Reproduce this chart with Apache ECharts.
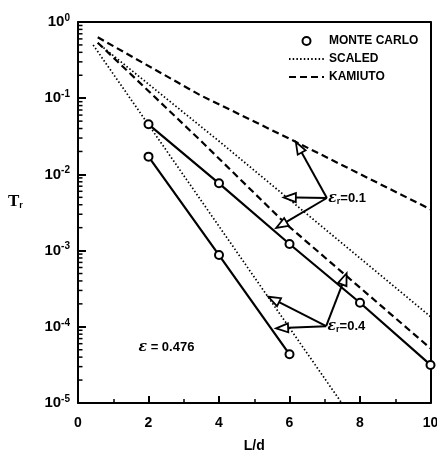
<!DOCTYPE html>
<html><head><meta charset="utf-8">
<script src="https://cdn.jsdelivr.net/npm/echarts@6/dist/echarts.min.js"></script>
<style>html,body{margin:0;padding:0;background:#fff}#c{width:437px;height:453px}</style>
</head><body><div id="c"></div>
<script>
// ---- data ----
const xTickLabels = ['0','2','4','6','8','10'];
const yTickExps = [0, -1, -2, -3, -4, -5];
const minorMultipliers = [2,3,4,5,6,7,8,9];

const mcX_01 = [2, 4, 6, 8, 10];
const mcY_01 = [0.0454, 7.64e-3, 1.22e-3, 2.07e-4, 3.16e-5];
const mcX_04 = [2, 4, 6];
const mcY_04 = [0.0171, 8.75e-4, 4.36e-5];

const scaledX_01 = [0.56, 4.03, 10];
const scaledY_01 = [0.53, 0.0266, 1.36e-4];
const scaledX_04 = [0.43, 7.48];
const scaledY_04 = [0.499, 1e-5];

const kamX_01 = [0.56, 3.46, 6.01, 10];
const kamY_01 = [0.63, 0.110, 0.0292, 3.48e-3];
const kamX_04 = [0.56, 3.46, 5.87, 10];
const kamY_04 = [0.535, 0.0283, 2.30e-3, 5.22e-5];

// annotation arrows: [fromX, fromY, toX, toY]
const arrowsEr01 = [[7.06, 4.9e-3, 6.18, 0.0266], [7.06, 4.9e-3, 5.84, 4.98e-3], [7.06, 4.9e-3, 5.62, 1.98e-3]];
const arrowsEr04 = [[7.04, 1.02e-4, 5.40, 2.48e-4], [7.04, 1.02e-4, 5.62, 9.55e-5], [7.04, 1.02e-4, 7.62, 5.04e-4]];

// annotation texts
const noteX = [7.10, 7.08, 2.51];
const noteY = [4.9e-3, 1.02e-4, 5.3e-5];
const noteText = ['{e|ε}{s|r}{n|=0.1}', '{e|ε}{s|r}{n|=0.4}', '{e|ε}{n| = 0.476}'];
const noteAlign = ['left', 'left', 'center'];

// ---- build ----
const FONT = 'Liberation Sans';
const zip = (xs, ys) => xs.map((x, i) => [x, ys[i]]);
const minorVals = [];
yTickExps.forEach(e => { if (e < 0) minorMultipliers.forEach(m => minorVals.push([0, m * Math.pow(10, e)])); });

function renderArrow(params, api) {
  const p0 = api.coord([api.value(0), api.value(1)]);
  const p1 = api.coord([api.value(2), api.value(3)]);
  const dx = p1[0] - p0[0], dy = p1[1] - p0[1];
  const L = Math.hypot(dx, dy);
  const ux = dx / L, uy = dy / L;
  const hl = 12, hw = 4.5;
  const bx = p1[0] - ux * hl, by = p1[1] - uy * hl;
  return { type: 'group', children: [
    { type: 'line', shape: { x1: p0[0], y1: p0[1], x2: bx, y2: by }, style: { stroke: '#000', lineWidth: 2 } },
    { type: 'polygon', shape: { points: [[p1[0], p1[1]], [bx - uy * hw, by + ux * hw], [bx + uy * hw, by - ux * hw]] },
      style: { fill: '#fff', stroke: '#000', lineWidth: 1.8 } }
  ]};
}
function renderMinor(params, api) {
  const p = api.coord([api.value(0), api.value(1)]);
  return { type: 'line', shape: { x1: p[0], y1: p[1], x2: p[0] + 4.5, y2: p[1] }, style: { stroke: '#000', lineWidth: 1.5 } };
}
const noteRich = {
  e: { fontFamily: 'DejaVu Serif', fontStyle: 'italic', fontWeight: 'bold', fontSize: 14, color: '#000', lineHeight: 16 },
  s: { fontFamily: FONT, fontWeight: 'bold', fontSize: 9, color: '#000', lineHeight: 8, verticalAlign: 'bottom' },
  n: { fontFamily: FONT, fontWeight: 'bold', fontSize: 13, color: '#000', lineHeight: 16 }
};
function renderNote(params, api) {
  const i = params.dataIndex;
  const p = api.coord([api.value(0), api.value(1)]);
  return { type: 'text', x: p[0], y: p[1], style: { text: noteText[i], rich: noteRich, align: noteAlign[i], verticalAlign: 'middle' } };
}

const solid = { color: '#000', width: 2.2, type: 'solid' };
const dotted = { color: '#000', width: 1.7, type: [1.5, 2.2] };
const dashed = { color: '#000', width: 2.2, type: [7, 4] };

const chart = echarts.init(document.getElementById('c'), null, { renderer: 'canvas' });
chart.setOption({
  animation: false,
  backgroundColor: '#fff',
  grid: { left: 78, right: 6.5, top: 22, bottom: 50, containLabel: false, outerBoundsMode: 'none' },
  legend: {
    orient: 'vertical', left: 283, top: 30, itemWidth: 35, itemHeight: 8, itemGap: 6, selectedMode: false,
    textStyle: { fontFamily: FONT, fontWeight: 'bold', fontSize: 12, color: '#000' },
    data: [{ name: 'MONTE CARLO', icon: 'emptyCircle' },
           { name: 'SCALED', itemStyle: { opacity: 0 } },
           { name: 'KAMIUTO', itemStyle: { opacity: 0 } }]
  },
  xAxis: [{
    type: 'value', min: 0, max: 10, interval: 2,
    axisLine: { show: true, onZero: false, lineStyle: { color: '#000', width: 2 } },
    axisTick: { show: true, inside: true, length: 7, lineStyle: { color: '#000', width: 2 } },
    minorTick: { show: true, splitNumber: 2, length: 4, lineStyle: { color: '#000', width: 1.5 } },
    splitLine: { show: false }, minorSplitLine: { show: false },
    axisLabel: { margin: 13, fontFamily: FONT, fontWeight: 'bold', fontSize: 14, color: '#000',
      formatter: v => xTickLabels[Math.round(v / 2)] },
    name: 'L/d', nameLocation: 'middle', nameGap: 36,
    nameTextStyle: { fontFamily: FONT, fontWeight: 'bold', fontSize: 14, color: '#000' }
  }, {
    type: 'value', position: 'top', min: 0, max: 10,
    axisLine: { show: true, onZero: false, lineStyle: { color: '#000', width: 2 } },
    axisTick: { show: false }, axisLabel: { show: false }, splitLine: { show: false }
  }],
  yAxis: [{
    type: 'log', logBase: 10, min: 1e-5, max: 1,
    axisLine: { show: true, onZero: false, lineStyle: { color: '#000', width: 2 } },
    axisTick: { show: true, inside: true, length: 8, lineStyle: { color: '#000', width: 2 } },
    splitLine: { show: false },
    axisLabel: {
      margin: 8,
      formatter: v => {
        const e = Math.round(Math.log10(v));
        if (yTickExps.indexOf(e) < 0) return '';
        return '{b|10}{s|' + (e === 0 ? '0' : '-' + (-e)) + '}';
      },
      rich: {
        b: { fontFamily: FONT, fontWeight: 'bold', fontSize: 15, color: '#000', lineHeight: 18 },
        s: { fontFamily: FONT, fontWeight: 'bold', fontSize: 10, color: '#000', lineHeight: 8, verticalAlign: 'top' }
      }
    }
  }, {
    type: 'log', logBase: 10, min: 1e-5, max: 1, position: 'right',
    axisLine: { show: true, onZero: false, lineStyle: { color: '#000', width: 2 } },
    axisTick: { show: false }, axisLabel: { show: false }, splitLine: { show: false }
  }],
  graphic: [{
    type: 'text', left: 8, top: 193,
    style: { text: '{t|T}{r|r}', rich: {
      t: { fontFamily: 'Liberation Serif', fontWeight: 'bold', fontSize: 17, color: '#000', lineHeight: 18 },
      r: { fontFamily: FONT, fontWeight: 'bold', fontSize: 9, color: '#000', lineHeight: 8, verticalAlign: 'bottom' } } }
  }],
  series: [
    { name: 'KAMIUTO', type: 'line', data: zip(kamX_01, kamY_01), symbol: 'none', lineStyle: dashed, itemStyle: { color: '#000' }, z: 2 },
    { name: 'KAMIUTO', type: 'line', data: zip(kamX_04, kamY_04), symbol: 'none', lineStyle: dashed, itemStyle: { color: '#000' }, z: 2 },
    { name: 'SCALED', type: 'line', data: zip(scaledX_01, scaledY_01), symbol: 'none', lineStyle: dotted, itemStyle: { color: '#000' }, z: 2 },
    { name: 'SCALED', type: 'line', data: zip(scaledX_04, scaledY_04), symbol: 'none', lineStyle: dotted, itemStyle: { color: '#000' }, z: 2 },
    { name: 'MONTE CARLO', type: 'line', data: zip(mcX_01, mcY_01), symbol: 'emptyCircle', symbolSize: 8, showAllSymbol: true,
      lineStyle: solid, itemStyle: { color: '#000', borderWidth: 2 }, z: 3 },
    { name: 'MONTE CARLO', type: 'line', data: zip(mcX_04, mcY_04), symbol: 'emptyCircle', symbolSize: 8, showAllSymbol: true,
      lineStyle: solid, itemStyle: { color: '#000', borderWidth: 2 }, z: 3 },
    { name: 'arrows', type: 'custom', renderItem: renderArrow, data: arrowsEr01.concat(arrowsEr04),
      encode: { x: [0, 2], y: [1, 3] }, silent: true, z: 5 },
    { name: 'minorTicks', type: 'custom', renderItem: renderMinor, data: minorVals, silent: true, z: 6, clip: false },
    { name: 'notes', type: 'custom', renderItem: renderNote, data: zip(noteX, noteY), silent: true, z: 6 }
  ]
});
</script></body></html>
